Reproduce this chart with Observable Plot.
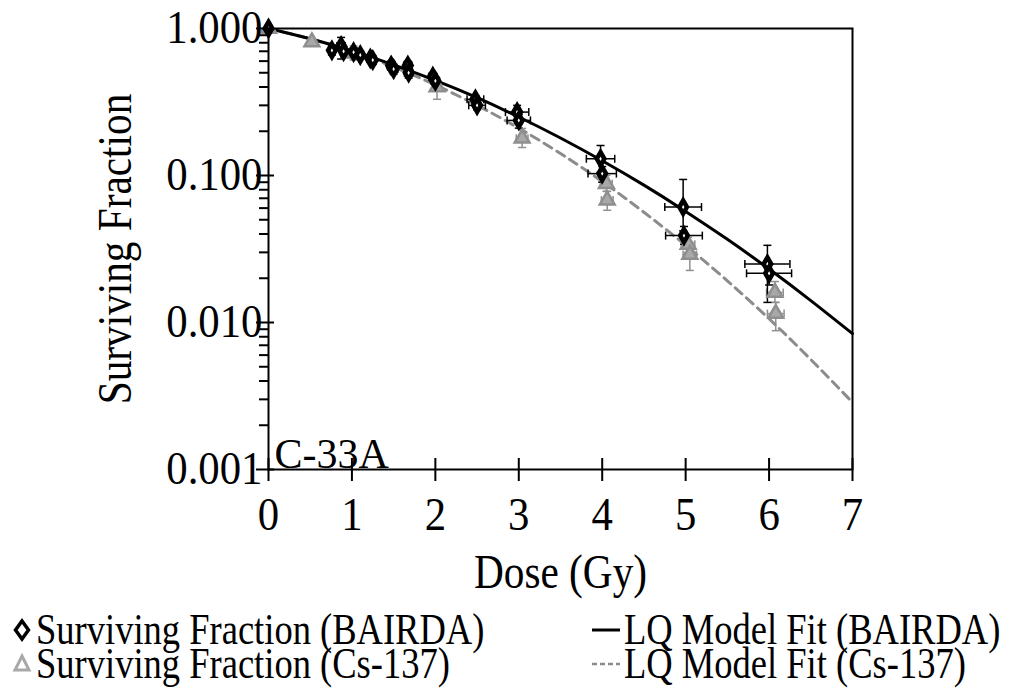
<!DOCTYPE html>
<html><head><meta charset="utf-8">
<script src="https://cdn.jsdelivr.net/npm/d3@7"></script>
<script src="https://cdn.jsdelivr.net/npm/@observablehq/plot@0.6"></script>
<style>
body{margin:0;background:#fff;font-family:"Liberation Serif","Times New Roman",serif;}
#legend{position:relative;width:1012px;height:89px;font-size:44px;color:#000;}
.item{position:absolute;display:flex;align-items:center;white-space:nowrap;height:34px;line-height:34px;}
.item svg{flex:none;}
.item span{display:inline-block;transform:scaleX(0.83);transform-origin:0 50%;}
g[aria-label="y-axis label"] text, g[aria-label="x-axis label"] text{font-size:48px !important;}
</style></head>
<body><div id="chart"></div><div id="legend"></div>
<script>
// ---- data ----
const bDose    = [0, 0.76, 0.87, 0.90, 1.02, 1.10, 1.22, 1.25, 1.47, 1.50, 1.67, 1.68, 1.97, 2.00, 2.48, 2.50, 2.98, 3.00, 3.98, 4.00, 4.97, 4.98, 5.98, 6.00];
const bSF      = [1.0, 0.71, 0.76, 0.70, 0.69, 0.66, 0.625, 0.61, 0.56, 0.53, 0.56, 0.50, 0.47, 0.44, 0.33, 0.30, 0.27, 0.237, 0.13, 0.103, 0.061, 0.039, 0.025, 0.0216];
const bDoseErr = [0, 0.03, 0.05, 0.03, 0.05, 0.03, 0.04, 0.04, 0.05, 0.05, 0.05, 0.05, 0.05, 0.05, 0.10, 0.10, 0.14, 0.14, 0.17, 0.17, 0.22, 0.22, 0.27, 0.27];
const bLo      = [1.0, 0.66, 0.62, 0.66, 0.64, 0.62, 0.59, 0.57, 0.52, 0.49, 0.51, 0.46, 0.44, 0.41, 0.31, 0.28, 0.24, 0.21, 0.105, 0.09, 0.042, 0.034, 0.0137, 0.018];
const bHi      = [1.0, 0.76, 0.87, 0.75, 0.74, 0.70, 0.66, 0.65, 0.60, 0.57, 0.60, 0.54, 0.50, 0.47, 0.35, 0.32, 0.30, 0.26, 0.160, 0.115, 0.094, 0.045, 0.0335, 0.025];

const cDose    = [0, 0.52, 1.02, 2.02, 3.04, 4.05, 4.06, 5.03, 5.05, 6.07, 6.08];
const cSF      = [1.0, 0.81, 0.68, 0.40, 0.179, 0.088, 0.068, 0.034, 0.029, 0.016, 0.0115];
const cDoseErr = [0, 0.03, 0.04, 0.04, 0.07, 0.07, 0.07, 0.08, 0.08, 0.10, 0.10];
const cLo      = [1.0, 0.78, 0.61, 0.33, 0.155, 0.078, 0.058, 0.030, 0.0226, 0.0137, 0.0088];
const cHi      = [1.0, 0.85, 0.76, 0.45, 0.209, 0.100, 0.078, 0.038, 0.035, 0.019, 0.0137];

const fitDose  = [0, 0.5, 1, 1.5, 2, 2.5, 3, 3.5, 4, 4.5, 5, 5.5, 6, 6.5, 7];
const fitBairda= [1, 0.851, 0.704, 0.566, 0.443, 0.338, 0.250, 0.180, 0.126, 0.086, 0.057, 0.0368, 0.0231, 0.0141, 0.0084];
const fitCs    = [1, 0.851, 0.696, 0.547, 0.413, 0.300, 0.210, 0.141, 0.091, 0.0562, 0.0335, 0.0192, 0.0106, 0.0056, 0.00286];

const xTicks = [0, 1, 2, 3, 4, 5, 6, 7];
const yTicks = [1, 0.1, 0.01, 0.001];
const yMinor = [2,3,4,5,6,7,8,9].flatMap(m => [0.001, 0.01, 0.1].map(d => m * d));
const cellLine = ["C-33A"];
const legendLabels = ["Surviving Fraction (BAIRDA)", "Surviving Fraction (Cs-137)", "LQ Model Fit (BAIRDA)", "LQ Model Fit (Cs-137)"];

// ---- tables ----
const bairda = bDose.map((d, i) => ({dose: d, sf: bSF[i], dx: bDoseErr[i], lo: bLo[i], hi: bHi[i]}));
const cs = cDose.map((d, i) => ({dose: d, sf: cSF[i], dx: cDoseErr[i], lo: cLo[i], hi: cHi[i]}));
const fits = fitDose.flatMap((d, i) => [{dose: d, sf: fitBairda[i], s: "b"}, {dose: d, sf: fitCs[i], s: "c"}]);

const hcap = {draw(ctx, size){ const r = Math.sqrt(size / Math.PI); ctx.moveTo(-r, 0); ctx.lineTo(r, 0); }};
const vcap = {draw(ctx, size){ const r = Math.sqrt(size / Math.PI); ctx.moveTo(0, -r); ctx.lineTo(0, r); }};
const blank = () => "";

function errMarks(data, color) {
  const e = data.filter(d => d.dx > 0);
  const w = 1.5;
  return [
    Plot.ruleX(e, {x: "dose", y1: "lo", y2: "hi", stroke: color, strokeWidth: w}),
    Plot.dot(e, {x: "dose", y: "lo", symbol: hcap, r: 4, stroke: color, strokeWidth: w}),
    Plot.dot(e, {x: "dose", y: "hi", symbol: hcap, r: 4, stroke: color, strokeWidth: w}),
    Plot.ruleY(e, {y: "sf", x1: d => d.dose - d.dx, x2: d => d.dose + d.dx, stroke: color, strokeWidth: w}),
    Plot.dot(e, {x: d => d.dose - d.dx, y: "sf", symbol: vcap, r: 4, stroke: color, strokeWidth: w}),
    Plot.dot(e, {x: d => d.dose + d.dx, y: "sf", symbol: vcap, r: 4, stroke: color, strokeWidth: w})
  ];
}

const chart = Plot.plot({
  width: 1012, height: 600,
  marginLeft: 268, marginRight: 160, marginTop: 28, marginBottom: 131,
  style: {fontFamily: '"Liberation Serif","Times New Roman",serif', fontSize: "46px", color: "#000", background: "#fff"},
  x: {domain: [0, 7]},
  y: {type: "log", domain: [0.001, 1]},
  marks: [
    Plot.line(fits.filter(d => d.s === "c"), {x: "dose", y: "sf", curve: "natural", stroke: "#8c8c8c", strokeWidth: 3, strokeDasharray: "9,6"}),
    Plot.line(fits.filter(d => d.s === "b"), {x: "dose", y: "sf", curve: "natural", stroke: "#000", strokeWidth: 3}),
    ...errMarks(cs, "#8f8f8f"),
    ...errMarks(bairda, "#000"),
    Plot.dot(cs, {x: "dose", y: "sf", symbol: "triangle", r: 5.5, fill: "#a8a8a8", stroke: "#8f8f8f", strokeWidth: 2.5}),
    Plot.dot(bairda, {x: "dose", y: "sf", symbol: "diamond", r: 4, fill: "#fff", stroke: "#000", strokeWidth: 4.5}),
    Plot.frame({stroke: "#000", strokeWidth: 2}),
    Plot.axisY({ticks: yMinor, tickSize: 9, tickFormat: blank, label: null, strokeWidth: 2}),
    Plot.axisY({ticks: yTicks, tickSize: 12, tickFormat: blank, label: null, strokeWidth: 2}),
    Plot.axisY({ticks: yTicks, tickSize: -6, tickFormat: blank, label: null, strokeWidth: 2}),
    Plot.axisY({ticks: yTicks, tickSize: 0, tickPadding: 6, tickFormat: ".3f",
      label: "Surviving Fraction", labelAnchor: "center", labelArrow: "none", labelOffset: 172}),
    Plot.axisX({ticks: xTicks, tickSize: 12, tickFormat: blank, label: null, strokeWidth: 2}),
    Plot.axisX({ticks: xTicks, tickSize: -11, tickFormat: blank, label: null, strokeWidth: 2}),
    Plot.axisX({ticks: xTicks, tickSize: 0, tickPadding: 28, tickFormat: d => String(d),
      label: "Dose (Gy)", labelAnchor: "center", labelArrow: "none", labelOffset: 118}),
    Plot.text(cellLine, {text: d => d, frameAnchor: "bottom-left", textAnchor: "start", dx: 6, dy: -2, fontSize: 42})
  ]
});
document.getElementById("chart").appendChild(chart);

// narrow the texts a little, like the condensed serif of the reference
function squeeze(sel, sx) {
  chart.querySelectorAll(sel).forEach(t => {
    let tr = t.getAttribute("transform") || "";
    const xa = t.getAttribute("x");
    if (xa !== null && xa !== "" && !isNaN(+xa)) { t.removeAttribute("x"); tr += ` translate(${+xa},0)`; }
    t.setAttribute("transform", `${tr} scale(${sx},1)`);
  });
}
squeeze('g[aria-label="y-axis label"] text', 0.86);
squeeze('g[aria-label="x-axis label"] text', 0.86);
squeeze('g[aria-label="y-axis tick label"] text', 0.93);
squeeze('g[aria-label="x-axis tick label"] text', 0.93);

// ---- legend ----
const lg = document.getElementById("legend");
function item(left, top, iconSvg, label) {
  const div = document.createElement("div");
  div.className = "item";
  div.style.left = left + "px";
  div.style.top = top + "px";
  div.innerHTML = iconSvg + "<span>" + label + "</span>";
  lg.appendChild(div);
}
const diamondIcon = '<svg width="28" height="30" viewBox="-14 -15 28 30"><path d="M0,-9L6.5,0L0,9L-6.5,0Z" fill="#fff" stroke="#000" stroke-width="3.5"/></svg>';
const triIcon = '<svg width="28" height="30" viewBox="-14 -15 28 30"><path d="M0,-8L7,6L-7,6Z" fill="#fff" stroke="#a8a8a8" stroke-width="3"/></svg>';
const solidIcon = '<svg width="40" height="30" viewBox="0 -15 40 30"><line x1="8" x2="36" y1="0" y2="0" stroke="#000" stroke-width="3"/></svg>';
const dashIcon = '<svg width="40" height="30" viewBox="0 -15 40 30"><line x1="8" x2="36" y1="0" y2="0" stroke="#8c8c8c" stroke-width="2.5" stroke-dasharray="5,3"/></svg>';
item(8, 13, diamondIcon, legendLabels[0]);
item(8, 47, triIcon, legendLabels[1]);
item(584, 13, solidIcon, legendLabels[2]);
item(584, 47, dashIcon, legendLabels[3]);
</script>
</body></html>
